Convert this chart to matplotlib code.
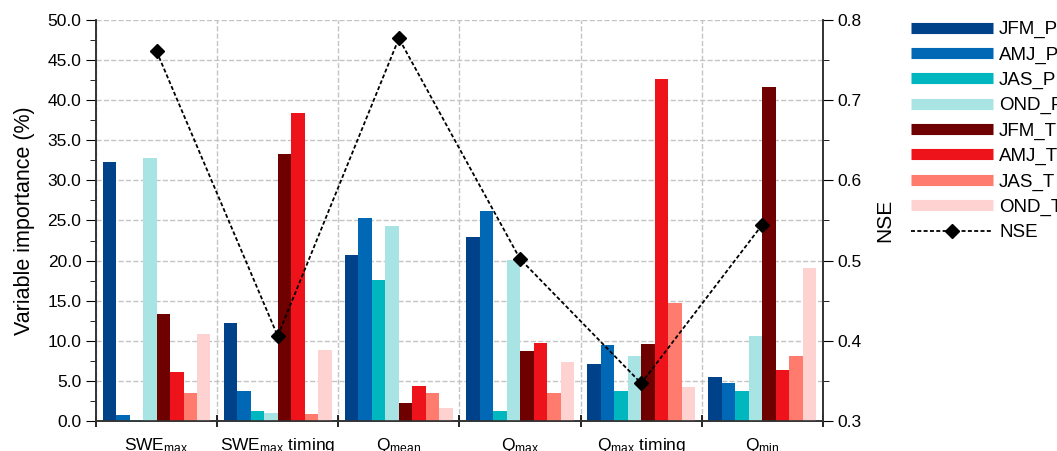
import numpy as np
import matplotlib
matplotlib.use('Agg')
import matplotlib.pyplot as plt
from matplotlib.lines import Line2D

plt.rcParams['font.family'] = ['Liberation Sans', 'DejaVu Sans']
plt.rcParams['mathtext.fontset'] = 'custom'
plt.rcParams['mathtext.rm'] = 'Liberation Sans'
plt.rcParams['mathtext.it'] = 'Liberation Sans:italic'

# data
categories = [r'SWE$_{\mathrm{max}}$', r'SWE$_{\mathrm{max}}$ timing', r'Q$_{\mathrm{mean}}$',
              r'Q$_{\mathrm{max}}$', r'Q$_{\mathrm{max}}$ timing', r'Q$_{\mathrm{min}}$']
series = ['JFM_P', 'AMJ_P', 'JAS_P', 'OND_P', 'JFM_T', 'AMJ_T', 'JAS_T', 'OND_T']
colors = ['#00428a', '#0068b4', '#00b7bf', '#a8e4e4', '#6e0000', '#ee131b', '#ff7b6e', '#ffd2d2']

jfm_p = [32.3, 12.2, 20.7, 22.9, 7.1, 5.5]
amj_p = [0.75, 3.7, 25.3, 26.2, 9.5, 4.7]
jas_p = [0.1, 1.25, 17.6, 1.25, 3.7, 3.7]
ond_p = [32.8, 1.0, 24.3, 20.1, 8.1, 10.6]
jfm_t = [13.3, 33.3, 2.25, 8.7, 9.6, 41.6]
amj_t = [6.1, 38.4, 4.4, 9.7, 42.6, 6.35]
jas_t = [3.5, 0.9, 3.5, 3.5, 14.7, 8.1]
ond_t = [10.85, 8.85, 1.6, 7.35, 4.2, 19.1]
values = [jfm_p, amj_p, jas_p, ond_p, jfm_t, amj_t, jas_t, ond_t]

nse = [0.761, 0.406, 0.777, 0.502, 0.347, 0.545]

fig = plt.figure(figsize=(10.57, 4.51), dpi=100)
ax = fig.add_axes([0.0908, 0.0665, 0.6878, 0.8892])
ax2 = ax.twinx()

x = np.arange(len(categories))
w = 0.89 / len(series)
for i, (s, v) in enumerate(zip(series, values)):
    ax.bar(x - 0.445 + w * (i + 0.5), v, width=w, color=colors[i], label=s, zorder=3)

ax.set_xlim(-0.5, len(categories) - 0.5)
ax.set_ylim(0, 50)
ax.set_yticks(np.arange(0, 50.1, 5))
ax.set_yticks(np.arange(0, 50.1, 2.5), minor=True)
ax.set_yticklabels(['%.1f' % t for t in np.arange(0, 50.1, 5)])
ax.set_xticks(x)
ax.set_xticklabels(categories)
ax.set_xticks(np.arange(-0.5, len(categories)), minor=True)
ax.tick_params(axis='x', which='major', length=0, pad=11, labelsize=12.5)
ax.tick_params(axis='x', which='minor', length=9, direction='inout', width=1.2)
ax.tick_params(axis='y', which='major', length=7, labelsize=12.5)
ax.tick_params(axis='y', which='minor', length=4)
ax.grid(axis='y', which='major', ls='--', color='#c4c4c4', lw=1, zorder=0)
ax.grid(axis='x', which='minor', ls='--', color='#c4c4c4', lw=1, zorder=0)
ax.set_ylabel('Variable importance (%)', fontsize=15.5, labelpad=9)
ax.spines['top'].set_visible(False)

ax2.plot(x, nse, color='k', ls=(0, (2.2, 1.3)), marker='D', markersize=7, lw=1.3,
         label='NSE', zorder=5)
ax2.set_ylim(0.3, 0.8)
ax2.set_yticks(np.arange(0.3, 0.81, 0.1))
ax2.set_yticks(np.arange(0.3, 0.81, 0.05), minor=True)
ax2.set_yticklabels(['%.1f' % t for t in np.arange(0.3, 0.81, 0.1)])
ax2.tick_params(axis='y', which='major', length=7, labelsize=12.5)
ax2.tick_params(axis='y', which='minor', length=4)
ax2.set_ylabel('NSE', fontsize=15, labelpad=10)
ax2.spines['top'].set_visible(False)
for a in (ax, ax2):
    for sp in ('left', 'right', 'bottom'):
        a.spines[sp].set_color('#333333')
        a.spines[sp].set_linewidth(1.2)

handles = [Line2D([], [], color=c, lw=8, solid_capstyle='butt') for c in colors]
handles.append(Line2D([], [], color='k', ls=(0, (2.2, 1.3)), lw=1.3, marker='D', markersize=7))
fig.legend(handles, series + ['NSE'], loc='upper left', bbox_to_anchor=(0.855, 0.970),
           frameon=False, fontsize=13.5, handlelength=4.37, handletextpad=0.32,
           labelspacing=0.43, borderaxespad=0)

fig.savefig('out.png', dpi=100)
